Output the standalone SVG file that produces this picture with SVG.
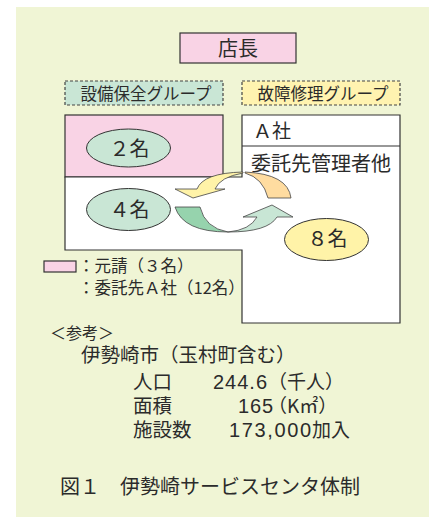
<svg xmlns="http://www.w3.org/2000/svg" width="429" height="518" viewBox="0 0 429 518">
<style>
.t{font-family:"Noto Sans CJK JP","Liberation Sans",sans-serif;fill:#2b2b2b}
.n{font-family:"Liberation Sans","Noto Sans CJK JP",sans-serif;fill:#2b2b2b}
.bx{stroke:#333;stroke-width:1.2}
.dash{stroke:#444;stroke-width:1.2;stroke-dasharray:3,2}
.el{stroke:#333;stroke-width:1}
.ar{stroke:#444;stroke-width:0.8;stroke-linejoin:miter}
</style>
<rect x="16" y="7" width="413" height="510" fill="#f0f5d5"/>
<g id="manager">
<rect class="bx" x="180" y="33" width="116" height="30" fill="#f9d3e5"/>
<text class="t" x="238" y="55.5" font-size="20" text-anchor="middle">店長</text>
</g>
<g id="group-maint">
<rect class="dash" x="65" y="81" width="158" height="24" fill="#c9e6d5"/>
<text class="t" x="146" y="100" font-size="16.5" text-anchor="middle">設備保全グループ</text>
</g>
<g id="group-repair">
<rect class="dash" x="242" y="81" width="158" height="24" fill="#fff3b0"/>
<text class="t" x="323" y="100" font-size="16.5" text-anchor="middle">故障修理グループ</text>
</g>
<g id="staff-area">
<rect class="bx" x="65" y="115" width="158" height="62" fill="#f9d3e5"/>
<path class="bx" d="M65,177 H242 V115 H400 V323 H242 V250 H65 Z" fill="#fff"/>
<line class="bx" x1="242" y1="146" x2="400" y2="146"/>
<text class="t" x="253" y="138" font-size="19">Ａ社</text>
<text class="t" x="251" y="170.5" font-size="20">委託先管理者他</text>
</g>
<g id="n2">
<ellipse class="el" cx="128.5" cy="148" rx="42" ry="19" fill="#c9e6d5"/>
<text class="t" x="129.5" y="155.5" font-size="20" text-anchor="middle">２名</text>
</g>
<g id="n4">
<ellipse class="el" cx="128.5" cy="209.5" rx="42" ry="21" fill="#c9e6d5"/>
<text class="t" x="129.5" y="217" font-size="20" text-anchor="middle">４名</text>
</g>
<g id="n8">
<ellipse class="el" cx="326.5" cy="239.5" rx="42" ry="21" fill="#fff3a8"/>
<text class="t" x="327.5" y="246" font-size="20" text-anchor="middle">８名</text>
</g>
<g id="connectors">
<path class="ar" fill="#fff3a8" d="M243,172 Q203,173 197,189 L175,189 L193,198 L225,189 L215,189 Q220,177 243,173 Z"/>
<path class="ar" fill="#ffdca0" d="M245,172 Q288,174 291,198 L268,198 Q263,178 245,173 Z"/>
<path class="ar" fill="#96d3ad" d="M175,207 L200,207 Q205,228 228,232 Q183,232 175,207 Z"/>
<path class="ar" fill="#c8e6d5" d="M228,232 Q268,232 277,217 L293,217 L272,205 L243,217 L257,217 Q250,230 228,232 Z"/>
</g>
<g id="legend">
<rect class="bx" x="44" y="261" width="32" height="11" fill="#f9d3e5"/>
<text class="t" x="78" y="271.5" font-size="16.5">：元請（３名）</text>
<text class="t" x="78" y="294" font-size="16.5">：委託先Ａ社（12名）</text>
</g>
<g id="reference">
<text class="t" x="50" y="339" font-size="16">＜参考＞</text>
<text class="t" x="81" y="362" font-size="19.5">伊勢崎市（玉村町含む）</text>
<text class="t" x="133" y="389" font-size="19.5">人口</text>
<text class="n" x="213" y="389" font-size="20" textLength="54" lengthAdjust="spacing">244.6</text>
<text class="t" x="268" y="389" font-size="19">（千人）</text>
<text class="t" x="133" y="413" font-size="19.5">面積</text>
<text class="n" x="238" y="413" font-size="20" textLength="35" lengthAdjust="spacing">165</text>
<text class="t" x="268" y="413" font-size="19">（K㎡）</text>
<text class="t" x="133" y="437" font-size="19.5">施設数</text>
<text class="n" x="229" y="437" font-size="20" textLength="82" lengthAdjust="spacing">173,000</text>
<text class="t" x="312" y="437" font-size="19">加入</text>
</g>
<g id="caption">
<text class="t" x="60" y="494" font-size="20">図１　伊勢崎サービスセンタ体制</text>
</g>
</svg>
